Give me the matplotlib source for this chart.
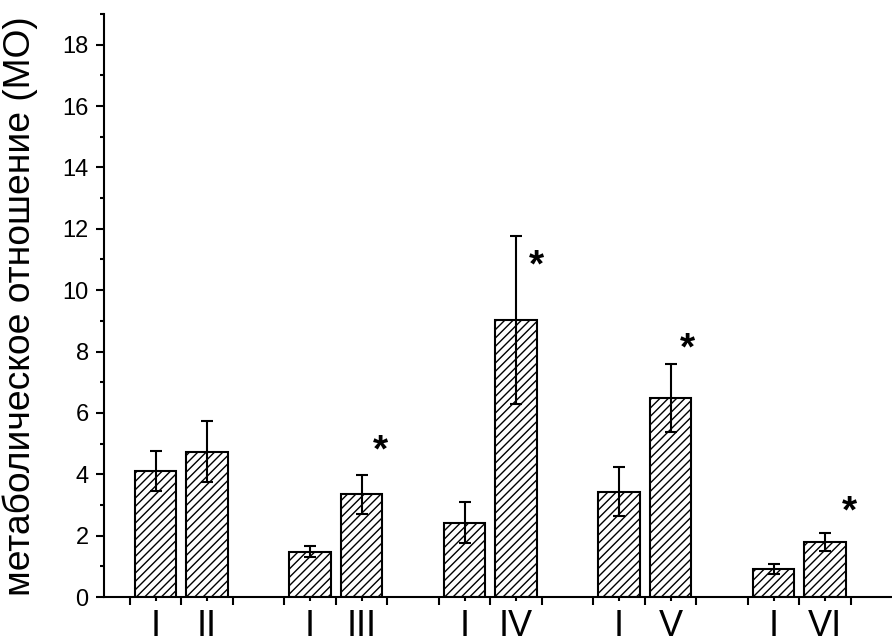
import matplotlib
matplotlib.use('Agg')
import matplotlib.pyplot as plt

plt.rcParams['font.family'] = ['Liberation Sans', 'DejaVu Sans']
plt.rcParams['hatch.linewidth'] = 1.0

# data
labels = ['I', 'II', 'I', 'III', 'I', 'IV', 'I', 'V', 'I', 'VI']
positions = [0.5, 1.5, 3.5, 4.5, 6.5, 7.5, 9.5, 10.5, 12.5, 13.5]
values = [4.11, 4.74, 1.47, 3.35, 2.42, 9.03, 3.43, 6.48, 0.91, 1.79]
errors = [0.65, 0.99, 0.18, 0.63, 0.67, 2.73, 0.80, 1.10, 0.17, 0.28]

# asterisks (significance marks)
star_x = [4.86, 7.90, 10.82, 13.97]
star_y = [4.75, 10.77, 8.07, 2.76]

fig = plt.figure(figsize=(8.92, 6.39), dpi=100)
ax = fig.add_axes([104 / 892, 42 / 639, 788 / 892, 583 / 639])

ax.bar(positions, values, width=0.81, color='white', edgecolor='black',
       linewidth=1.5, hatch='////', zorder=2)
ax.errorbar(positions, values, yerr=errors, fmt='none', ecolor='black',
            elinewidth=1.5, capsize=4.5, capthick=1.5, zorder=3)

for x, y in zip(star_x, star_y):
    ax.text(x, y, '*', fontsize=28, fontweight='bold', ha='center', va='center')

ax.set_xlim(-0.5, 14.8)
ax.set_ylim(0, 19)

ax.set_xticks(range(0, 15))
ax.set_xticklabels([])
ax.set_xticks(positions, labels, minor=True)
ax.set_yticks(range(0, 19, 2))
ax.set_yticks(range(1, 20, 2), minor=True)

ax.tick_params(axis='both', which='major', direction='out', length=6, width=1.5)
ax.tick_params(axis='both', which='minor', direction='out', length=3, width=1.5)
ax.tick_params(axis='y', which='major', labelsize=17, pad=5)
ax.tick_params(axis='x', which='minor', labelsize=26, pad=6)

for side in ['top', 'right']:
    ax.spines[side].set_visible(False)
for side in ['left', 'bottom']:
    ax.spines[side].set_linewidth(1.5)

fig.text(20 / 892, 1 - 306 / 639, 'метаболическое отношение (МО)', rotation=90,
         fontsize=26.8, ha='center', va='center')

fig.savefig('out.png', dpi=100)
